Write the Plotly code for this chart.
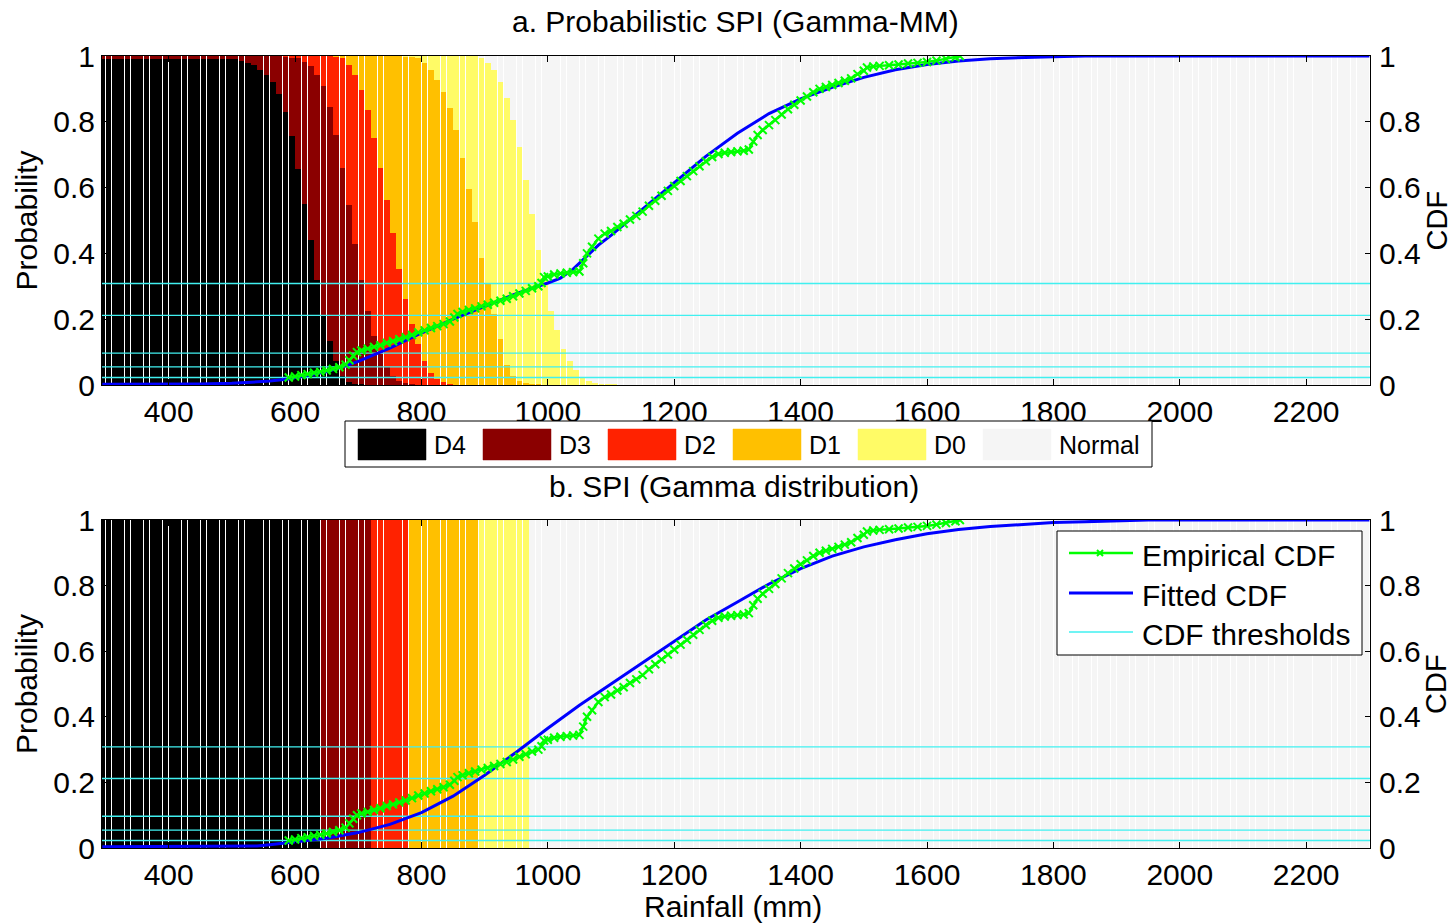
import plotly.graph_objects as go

# ---------------- data ----------------
# rainfall bins (bar centres, mm), 10 mm wide
bin_centers = list(range(295, 2300, 10))

# probabilistic SPI: cumulative class probability (upper edge of each class)
# for the transition bins; below these bins the rainfall is almost surely D4,
# above them it is Normal
detail_bins = list(range(505, 1135, 10))
cum_d4 = [0.99, 0.985, 0.978, 0.973, 0.957, 0.942, 0.922, 0.886, 0.83, 0.756,
          0.658, 0.551, 0.44, 0.318, 0.211, 0.135, 0.074, 0.028, 0.008, 0.004,
          0.002] + [0.0] * 42
cum_d3 = [1.0] * 8 + [0.998, 0.996, 0.993, 0.983, 0.97, 0.942, 0.909, 0.844,
          0.761, 0.661, 0.546, 0.43, 0.318, 0.226, 0.15, 0.094, 0.054, 0.028,
          0.013, 0.006, 0.002] + [0.0] * 34
cum_d2 = [1.0] * 16 + [0.999, 0.993, 0.973, 0.942, 0.896, 0.836, 0.752, 0.661,
          0.563, 0.462, 0.353, 0.262, 0.186, 0.125, 0.074, 0.035, 0.018,
          0.008, 0.003] + [0.0] * 28
cum_d1 = [1.0] * 27 + [0.999, 0.998, 0.993, 0.978, 0.957, 0.927, 0.891, 0.841,
          0.775, 0.691, 0.597, 0.495, 0.387, 0.308, 0.216, 0.14, 0.06, 0.028,
          0.013, 0.006, 0.003, 0.002, 0.001] + [0.0] * 13
cum_d0 = [1.0] * 39 + [0.993, 0.978, 0.957, 0.922, 0.873, 0.805, 0.724, 0.622,
          0.521, 0.41, 0.32, 0.226, 0.166, 0.11, 0.072, 0.045, 0.022, 0.011,
          0.007, 0.004, 0.003, 0.002, 0.001, 0.0]
low_tail = [0.99, 0.01, 0.0, 0.0, 0.0, 0.0]     # bins below detail_bins
high_tail = [0.0, 0.0, 0.0, 0.0, 0.0, 1.0]    # bins above detail_bins

# deterministic SPI: rainfall (mm) at which the class changes D4|D3|D2|D1|D0|Normal
class_edges = [640, 720, 780, 890, 970]

classes = ["D4", "D3", "D2", "D1", "D0", "Normal"]
class_colors = ["#000000", "#8B0000", "#FF2200", "#FFC000", "#FFFB66", "#F5F5F5"]

# CDF thresholds of the SPI classes
cdf_thresholds = [0.0228, 0.0548, 0.0968, 0.2119, 0.3085]

# empirical CDF of the observed rainfall
emp_rain = [590, 600, 610, 620, 630, 640, 650, 660, 670, 680, 686, 692, 698,
            705, 715, 725, 735, 745, 755, 765, 775, 785, 795, 805, 815, 825,
            835, 845, 852, 857, 865, 875, 885, 895, 905, 915, 925, 935, 945,
            955, 965, 975, 985, 990, 994, 1000, 1010, 1020, 1030, 1040, 1050,
            1056, 1062, 1070, 1080, 1090, 1100, 1110, 1120, 1130, 1140, 1150,
            1160, 1170, 1180, 1190, 1200, 1210, 1220, 1230, 1240, 1250, 1260,
            1270, 1280, 1290, 1300, 1310, 1318, 1325, 1332, 1340, 1350, 1360,
            1370, 1380, 1390, 1400, 1410, 1420, 1430, 1440, 1450, 1460, 1470,
            1480, 1490, 1500, 1505, 1515, 1525, 1540, 1555, 1570, 1585, 1600,
            1615, 1630, 1645, 1652]
emp_cdf = [0.023, 0.026, 0.03, 0.033, 0.037, 0.04, 0.044, 0.049, 0.054, 0.062,
           0.075, 0.089, 0.1, 0.105, 0.11, 0.116, 0.121, 0.128, 0.133, 0.139,
           0.145, 0.152, 0.16, 0.166, 0.173, 0.179, 0.185, 0.193, 0.205, 0.216,
           0.222, 0.228, 0.233, 0.239, 0.244, 0.25, 0.256, 0.262, 0.27, 0.278,
           0.286, 0.294, 0.3, 0.31, 0.328, 0.33, 0.336, 0.339, 0.341, 0.343,
           0.345, 0.37, 0.4, 0.42, 0.445, 0.46, 0.468, 0.48, 0.49, 0.503,
           0.514, 0.527, 0.545, 0.56, 0.575, 0.59, 0.605, 0.62, 0.635, 0.65,
           0.665, 0.68, 0.693, 0.702, 0.706, 0.708, 0.71, 0.712, 0.716, 0.74,
           0.76, 0.775, 0.79, 0.805, 0.822, 0.838, 0.852, 0.865, 0.877, 0.89,
           0.9, 0.906, 0.912, 0.918, 0.925, 0.932, 0.945, 0.955, 0.965, 0.968,
           0.97, 0.972, 0.974, 0.977, 0.979, 0.982, 0.986, 0.991, 0.996, 1.0]

# fitted Gamma CDF, method of moments (panel a)
fit_a_rain = [295, 400, 450, 500, 530, 560, 590, 620, 650, 680, 700, 750, 800,
              850, 900, 950, 1000, 1020, 1040, 1060, 1080, 1100, 1150, 1200,
              1250, 1300, 1350, 1400, 1450, 1500, 1550, 1600, 1650, 1700, 1750,
              1800, 1850, 2000, 2300]
fit_a_cdf = [0.002, 0.002, 0.003, 0.005, 0.008, 0.012, 0.018, 0.028, 0.04,
             0.058, 0.072, 0.112, 0.158, 0.2, 0.24, 0.278, 0.31, 0.325, 0.352,
             0.39, 0.425, 0.455, 0.535, 0.615, 0.695, 0.765, 0.825, 0.87,
             0.905, 0.935, 0.958, 0.974, 0.985, 0.992, 0.996, 0.998, 1.0, 1.0,
             1.0]

# fitted Gamma CDF (panel b)
fit_b_rain = [295, 500, 540, 560, 600, 650, 700, 750, 800, 850, 900, 950, 1000,
              1050, 1100, 1150, 1200, 1250, 1300, 1350, 1400, 1450, 1500, 1550,
              1600, 1650, 1700, 1750, 1800, 1850, 1900, 1950, 2300]
fit_b_cdf = [0.004, 0.004, 0.006, 0.01, 0.018, 0.03, 0.047, 0.072, 0.108,
             0.158, 0.222, 0.292, 0.365, 0.435, 0.5, 0.565, 0.63, 0.695, 0.75,
             0.805, 0.852, 0.89, 0.918, 0.94, 0.958, 0.971, 0.98, 0.987, 0.992,
             0.995, 0.998, 1.0, 1.0]

x_ticks = list(range(400, 2201, 200))
y_ticks = [0, 0.2, 0.4, 0.6, 0.8, 1]
y_tick_text = ["0", "0.2", "0.4", "0.6", "0.8", "1"]

# ---------------- class probabilities per bin ----------------
cum_rows = list(zip(cum_d4, cum_d3, cum_d2, cum_d1, cum_d0))
assert len(cum_rows) == len(detail_bins)
assert len(emp_rain) == len(emp_cdf)


def probabilistic_row(b):
    if b < detail_bins[0]:
        return low_tail
    if b > detail_bins[-1]:
        return high_tail
    c = cum_rows[detail_bins.index(b)]
    edges = [0.0] + list(c) + [1.0]
    return [max(edges[i + 1] - edges[i], 0.0) for i in range(6)]


def deterministic_row(b):
    k = sum(1 for e in class_edges if b > e)
    return [1.0 if i == k else 0.0 for i in range(6)]


prob_a = [probabilistic_row(b) for b in bin_centers]
prob_b = [deterministic_row(b) for b in bin_centers]

# ---------------- figure geometry (pixels) ----------------
W, H = 1455, 924
PL, PR, PT, PB = 102, 1370, 56, 848
TOP_A, BOT_A = 56, 385
TOP_B, BOT_B = 520, 848
FONT = "Liberation Sans, Arial, sans-serif"
FS = 30


def px(x):
    return (x - PL) / (PR - PL)


def py(y):
    return (PB - y) / (PB - PT)


fig = go.Figure()

for panel, probs, xa, ya, yr in [("a", prob_a, "x", "y", "y3"),
                                 ("b", prob_b, "x2", "y2", "y4")]:
    for i, name in enumerate(classes):
        fig.add_trace(go.Bar(
            x=bin_centers, y=[row[i] for row in probs], name=name,
            marker=dict(color=class_colors[i], line=dict(width=0)),
            xaxis=xa, yaxis=ya, showlegend=False, hoverinfo="skip"))
    for t in cdf_thresholds:
        fig.add_trace(go.Scatter(
            x=[bin_centers[0] - 5, bin_centers[-1] + 10], y=[t, t], mode="lines",
            line=dict(color="#40F0F0", width=1.3), xaxis=xa, yaxis=yr,
            showlegend=False, hoverinfo="skip"))
    fr, fc = (fit_a_rain, fit_a_cdf) if panel == "a" else (fit_b_rain, fit_b_cdf)
    fig.add_trace(go.Scatter(
        x=fr, y=fc, mode="lines", line=dict(color="#0000FF", width=3),
        xaxis=xa, yaxis=yr, showlegend=False, name="Fitted CDF"))
    fig.add_trace(go.Scatter(
        x=emp_rain, y=emp_cdf, mode="lines+markers",
        line=dict(color="#00FF00", width=2.5),
        marker=dict(symbol="x-thin", size=8, line=dict(color="#00FF00", width=2)),
        xaxis=xa, yaxis=yr, showlegend=False, name="Empirical CDF"))

dom_a = [py(BOT_A), py(TOP_A)]
dom_b = [py(BOT_B), py(TOP_B)]

axis_common = dict(showline=True, linecolor="black", linewidth=1, ticks="inside",
                   tickcolor="black", tickfont=dict(family=FONT, size=FS, color="black"),
                   showgrid=False, zeroline=False)
xcommon = dict(axis_common, range=[294.5, 2301], tickvals=x_ticks, ticklen=6,
               mirror="ticks")
ycommon = dict(axis_common, range=[0, 1], tickvals=y_ticks, ticktext=y_tick_text,
               ticklen=5)

fig.update_layout(
    width=W, height=H,
    margin=dict(l=PL, r=W - PR, t=PT, b=H - PB, pad=0),
    paper_bgcolor="white", plot_bgcolor="white",
    barmode="stack", bargap=0.1,
    showlegend=False,
    font=dict(family=FONT, size=FS, color="black"),
    xaxis=dict(xcommon, anchor="y", domain=[0, 1]),
    xaxis2=dict(xcommon, anchor="y2", domain=[0, 1]),
    yaxis=dict(ycommon, domain=dom_a, anchor="x"),
    yaxis2=dict(ycommon, domain=dom_b, anchor="x2"),
    yaxis3=dict(ycommon, overlaying="y", side="right", anchor="x",
                ticklabelstandoff=2),
    yaxis4=dict(ycommon, overlaying="y2", side="right", anchor="x2",
                ticklabelstandoff=2),
)

ann = []
shapes = []


def text(x, y, s, xanchor="center", angle=0, size=FS):
    ann.append(dict(x=px(x), y=py(y), xref="paper", yref="paper", text=s,
                    showarrow=False, xanchor=xanchor, yanchor="middle",
                    textangle=angle, font=dict(family=FONT, size=size, color="black")))


text(735, 22, "a. Probabilistic SPI (Gamma-MM)")
text(734, 487, "b. SPI (Gamma distribution)")
text(733, 907, "Rainfall (mm)")
text(26, (TOP_A + BOT_A) / 2, "Probability", angle=-90)
text(26, (TOP_B + BOT_B) / 2, "Probability", angle=-90)
text(1436, (TOP_A + BOT_A) / 2, "CDF", angle=-90, size=29)
text(1436, (TOP_B + BOT_B) / 2, "CDF", angle=-90, size=29)


def rect(x0, y0, x1, y1, fill, line="black", lw=1):
    shapes.append(dict(type="rect", xref="paper", yref="paper",
                       x0=px(x0), x1=px(x1), y0=py(y1), y1=py(y0),
                       fillcolor=fill, line=dict(color=line, width=lw)))


def seg(x0, y0, x1, y1, color, lw):
    shapes.append(dict(type="line", xref="paper", yref="paper",
                       x0=px(x0), x1=px(x1), y0=py(y0), y1=py(y1),
                       line=dict(color=color, width=lw)))


# class legend below panel a
rect(345, 421, 1152, 467, "white")
for i, name in enumerate(classes):
    x0 = 358 + 125 * i
    rect(x0, 429, x0 + 68, 460, class_colors[i], line=class_colors[i], lw=0.5)
    text(x0 + 74, 445, name, xanchor="left", size=25)

# curve legend inside panel b
rect(1057, 531, 1362, 655, "white")
seg(1069, 553, 1133, 553, "#00FF00", 2.5)
seg(1097, 550, 1103, 556, "#00FF00", 2)
seg(1097, 556, 1103, 550, "#00FF00", 2)
seg(1069, 593, 1133, 593, "#0000FF", 3)
seg(1069, 632, 1133, 632, "#40F0F0", 1.5)
text(1140, 555, "Empirical CDF", xanchor="left")
text(1140, 595, "Fitted CDF", xanchor="left")
text(1140, 634, "CDF thresholds", xanchor="left")

fig.update_layout(annotations=ann, shapes=shapes)
fig.write_html("out.html")
